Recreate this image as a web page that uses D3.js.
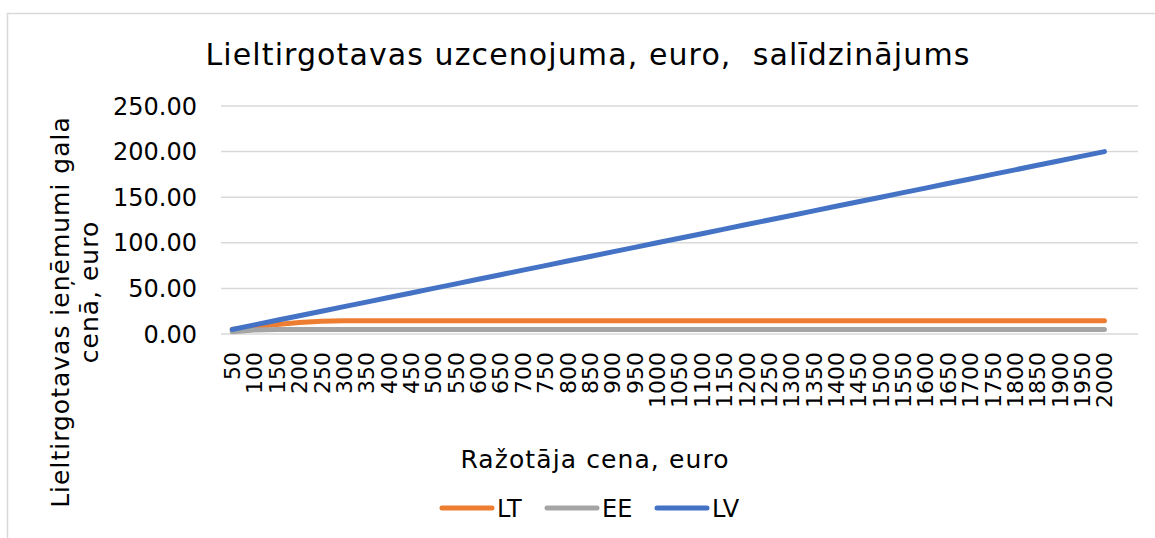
<!DOCTYPE html>
<html>
<head>
<meta charset="utf-8">
<script src="https://cdn.jsdelivr.net/npm/d3@7"></script>
<style>
  body { margin: 0; background: #fff; }
  text { font-family: "DejaVu Sans", Verdana, sans-serif; fill: #000; }
</style>
</head>
<body>
<div id="chart"></div>
<script>
// Ražotāja cena, euro
const categories = [50, 100, 150, 200, 250, 300, 350, 400, 450, 500, 550, 600, 650, 700, 750, 800,
    850, 900, 950, 1000, 1050, 1100, 1150, 1200, 1250, 1300, 1350, 1400, 1450, 1500, 1550, 1600,
    1650, 1700, 1750, 1800, 1850, 1900, 1950, 2000];

const lt = [5, 8, 10.5, 12.5, 14, 14.5, 14.5, 14.5, 14.5, 14.5, 14.5, 14.5, 14.5, 14.5, 14.5, 14.5,
    14.5, 14.5, 14.5, 14.5, 14.5, 14.5, 14.5, 14.5, 14.5, 14.5, 14.5, 14.5, 14.5, 14.5, 14.5, 14.5,
    14.5, 14.5, 14.5, 14.5, 14.5, 14.5, 14.5, 14.5];

const ee = [2.5, 4.5, 5, 5, 5, 5, 5, 5, 5, 5, 5, 5, 5, 5, 5, 5,
    5, 5, 5, 5, 5, 5, 5, 5, 5, 5, 5, 5, 5, 5, 5, 5,
    5, 5, 5, 5, 5, 5, 5, 5];

const lv = [5, 10, 15, 20, 25, 30, 35, 40, 45, 50, 55, 60, 65, 70, 75, 80,
    85, 90, 95, 100, 105, 110, 115, 120, 125, 130, 135, 140, 145, 150, 155, 160,
    165, 170, 175, 180, 185, 190, 195, 200];

const yTicks = [0, 50, 100, 150, 200, 250];

const series = [
    { name: 'LT', values: lt, color: '#ED7D31' },
    { name: 'EE', values: ee, color: '#A5A5A5' },
    { name: 'LV', values: lv, color: '#4472C4' }
];

const width = 1155, height = 538;
const plot = { left: 221, right: 1138, top: 106, bottom: 334 };

const svg = d3.select('#chart').append('svg')
    .attr('width', width)
    .attr('height', height);

// chart frame
svg.append('rect')
    .attr('x', 7.5).attr('y', 13.5)
    .attr('width', width + 20).attr('height', height + 20)
    .style('fill', 'none')
    .style('stroke', '#D9D9D9')
    .style('stroke-width', 1.5);

// one empty slot after the last category, as in the original
const x = d3.scaleBand()
    .domain(categories.concat(['']))
    .range([plot.left, plot.right]);

const y = d3.scaleLinear()
    .domain([0, 250])
    .range([plot.bottom, plot.top]);

const cx = d => x(d) + x.bandwidth() / 2;

// gridlines
svg.append('g')
    .selectAll('line')
    .data(yTicks)
    .join('line')
    .attr('x1', plot.left).attr('x2', plot.right)
    .attr('y1', d => y(d)).attr('y2', d => y(d))
    .style('stroke', '#D9D9D9')
    .style('stroke-width', 1.5);

// y tick labels
svg.append('g')
    .selectAll('text')
    .data(yTicks)
    .join('text')
    .attr('x', 197)
    .attr('y', d => y(d))
    .attr('dy', '0.36em')
    .attr('text-anchor', 'end')
    .style('font-size', '24px')
    .text(d => d.toFixed(2));

// x tick labels
svg.append('g')
    .selectAll('text')
    .data(categories)
    .join('text')
    .attr('transform', d => `translate(${cx(d)},352) rotate(-90)`)
    .attr('dy', '0.36em')
    .attr('text-anchor', 'end')
    .style('font-size', '22px')
    .text(d => d);

// lines
const line = d3.line()
    .x((d, i) => cx(categories[i]))
    .y(d => y(d));

svg.append('g')
    .selectAll('path')
    .data(series)
    .join('path')
    .attr('d', d => line(d.values))
    .style('fill', 'none')
    .style('stroke', d => d.color)
    .style('stroke-width', 5)
    .style('stroke-linecap', 'round')
    .style('stroke-linejoin', 'round');

// title
svg.append('text')
    .attr('x', 588).attr('y', 65)
    .attr('text-anchor', 'middle')
    .style('font-size', '30px')
    .style('letter-spacing', '1.1px')
    .style('white-space', 'pre')
    .text('Lieltirgotavas uzcenojuma, euro,  salīdzinājums');

// axis titles
svg.append('text')
    .attr('x', 595).attr('y', 468)
    .attr('text-anchor', 'middle')
    .style('font-size', '25px')
    .style('letter-spacing', '1.1px')
    .text('Ražotāja cena, euro');

const yTitle = svg.append('text')
    .attr('transform', 'translate(0,312) rotate(-90)')
    .attr('text-anchor', 'middle')
    .style('font-size', '25px')
    .style('letter-spacing', '1px');
yTitle.append('tspan').attr('x', 0).attr('y', 69).text('Lieltirgotavas ieņēmumi gala');
yTitle.append('tspan').attr('x', 20).attr('y', 98).text('cenā, euro');

// legend
const legend = svg.append('g')
    .selectAll('g')
    .data(series)
    .join('g')
    .attr('transform', (d, i) => `translate(${[442, 547, 657][i]},508)`);

legend.append('line')
    .attr('x1', 0).attr('x2', 50)
    .style('stroke', d => d.color)
    .style('stroke-width', 5)
    .style('stroke-linecap', 'round');

legend.append('text')
    .attr('x', 55)
    .attr('dy', '0.36em')
    .style('font-size', '24px')
    .text(d => d.name);
</script>
</body>
</html>
